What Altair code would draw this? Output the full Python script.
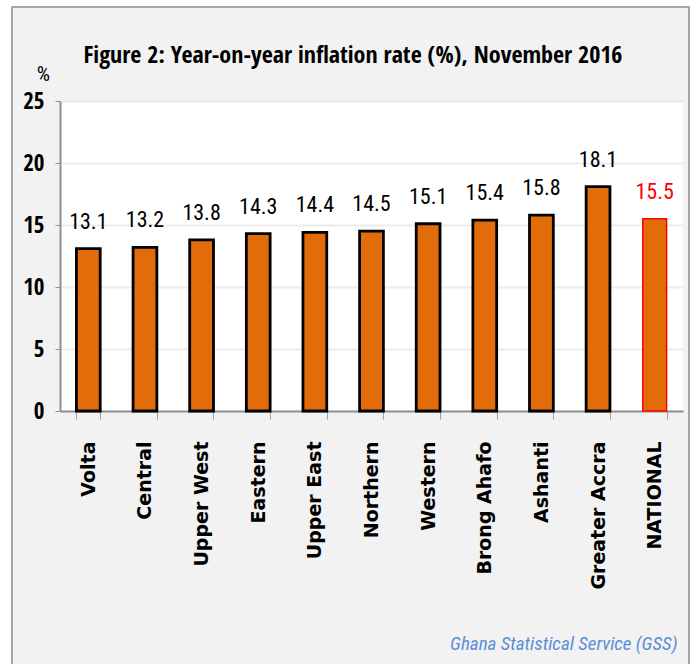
import altair as alt
import pandas as pd

regions = ["Volta", "Central", "Upper West", "Eastern", "Upper East", "Northern",
           "Western", "Brong Ahafo", "Ashanti", "Greater Accra", "NATIONAL"]
rates = [13.1, 13.2, 13.8, 14.3, 14.4, 14.5, 15.1, 15.4, 15.8, 18.1, 15.5]
y_ticks = [0, 5, 10, 15, 20, 25]
title_text = "Figure 2: Year-on-year inflation rate (%),  November 2016"
source_text = "Ghana Statistical Service (GSS)"

df = pd.DataFrame({"region": regions, "rate": rates})

W, H = 623, 310
PL, PT, PR, PB = 60, 101, 15, 253

COND_B = "Open Sans Condensed, Roboto Condensed, sans-serif"
COND_R = "Roboto Condensed, Open Sans Condensed, sans-serif"
ORANGE = "#E36C0A"

is_nat = alt.datum.region == "NATIONAL"

x_enc = alt.X(
    "region:N", sort=regions,
    scale=alt.Scale(paddingInner=0.58, paddingOuter=0.29),
    axis=alt.Axis(
        title=source_text,
        titleX=617, titleY=238, titleAlign="right", titleBaseline="alphabetic",
        titleFont=COND_R, titleFontStyle="italic", titleFontWeight="normal",
        titleFontSize=19, titleColor="#5B8ED6",
        labelAngle=-90, labelFont="DejaVu Sans", labelFontWeight="bold",
        labelFontSize=19, labelColor="black", labelPadding=22,
        tickBand="extent", tickSize=8, tickColor="#a0a0a0",
        domainColor="#909090", domainWidth=2, grid=False,
    ),
)
y_enc = alt.Y(
    "rate:Q",
    scale=alt.Scale(domain=[0, 25], nice=False),
    axis=alt.Axis(
        values=y_ticks, title="%", titleAngle=0, titleX=-17, titleY=-21,
        titleAlign="center", titleBaseline="alphabetic", titleFont=COND_R,
        titleFontWeight="normal", titleFontSize=21, titleColor="black",
        labelFont=COND_B, labelFontWeight="bold", labelFontSize=23,
        labelColor="black", labelPadding=11,
        tickSize=5, tickColor="#909090", domainColor="#909090", domainWidth=2,
        grid=True, gridColor="#ececec", gridWidth=2,
    ),
)

bars = alt.Chart(df).mark_bar().encode(
    x=x_enc, y=y_enc,
    color=alt.value(ORANGE),
    stroke=alt.condition(is_nat, alt.value("#FF0000"), alt.value("black")),
    strokeWidth=alt.condition(is_nat, alt.value(1.5), alt.value(2.8)),
)

labels = alt.Chart(df).mark_text(
    font=COND_R, fontSize=22, baseline="alphabetic", dy=-20
).encode(
    x=alt.X("region:N", sort=regions),
    y="rate:Q",
    text=alt.Text("rate:Q", format=".1f"),
    color=alt.condition(is_nat, alt.value("#FF0000"), alt.value("black")),
)

one = pd.DataFrame({"k": [0]})
left_strip = alt.Chart(one).mark_rect(color="white").encode(
    x=alt.value(-PL), x2=alt.value(-48), y=alt.value(-PT), y2=alt.value(H + PB))
top_strip = alt.Chart(one).mark_rect(color="white").encode(
    x=alt.value(-PL), x2=alt.value(W + PR), y=alt.value(-PT), y2=alt.value(-94))
right_strip = alt.Chart(one).mark_rect(color="white").encode(
    x=alt.value(629), x2=alt.value(W + PR), y=alt.value(-PT), y2=alt.value(H + PB))
frame = alt.Chart(one).mark_rect(fill=None, stroke="#a6a6a6", strokeWidth=2).encode(
    x=alt.value(-48), x2=alt.value(629), y=alt.value(-94), y2=alt.value(H + PB + 10))
title = alt.Chart(one).mark_text(
    font=COND_B, fontSize=24, fontWeight="bold", color="black",
    align="center", baseline="alphabetic"
).encode(x=alt.value(293), y=alt.value(-38), text=alt.value(title_text))

chart = alt.layer(left_strip, top_strip, right_strip, frame, title, bars, labels).properties(
    width=W, height=H,
    autosize=alt.AutoSizeParams(type="none"),
    padding={"left": PL, "top": PT, "right": PR, "bottom": PB},
    background="#f2f2f2",
).configure_view(fill="white", stroke=None)

chart.save("out.html", embed_options={"renderer": "svg", "actions": False})
